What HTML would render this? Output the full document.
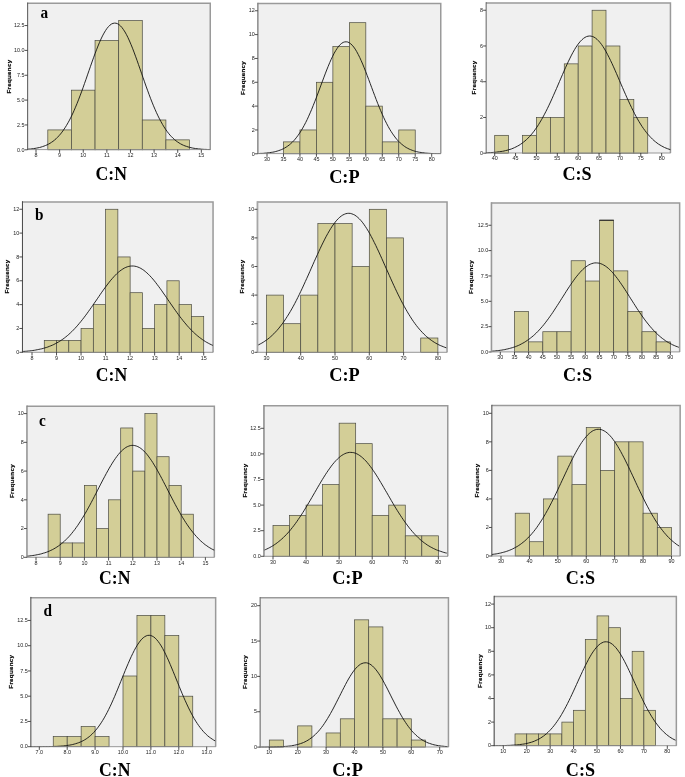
<!DOCTYPE html>
<html lang="en"><head><meta charset="utf-8"><title>Histograms</title>
<style>html,body{margin:0;padding:0;background:#fff}svg{display:block;will-change:transform;transform:translateZ(0)}</style>
</head><body>
<svg width="685" height="777" viewBox="0 0 685 777">
<rect width="685" height="777" fill="#fff"/>
<g>
<clipPath id="c0"><rect x="27.50" y="3.00" width="183.00" height="147.30"/></clipPath>
<rect x="27.50" y="3.00" width="183.00" height="146.60" fill="#f0f0f0"/>
<polyline points="27.50,3.25 210.25,3.25 210.25,149.60" fill="none" stroke="#9a9a9a" stroke-width="1.5"/>
<rect x="47.81" y="129.92" width="23.62" height="19.88" fill="#d3ce97" stroke="#4a4a40" stroke-width="0.7"/>
<rect x="71.43" y="90.16" width="23.62" height="59.64" fill="#d3ce97" stroke="#4a4a40" stroke-width="0.7"/>
<rect x="95.05" y="40.46" width="23.62" height="109.34" fill="#d3ce97" stroke="#4a4a40" stroke-width="0.7"/>
<rect x="118.67" y="20.58" width="23.62" height="129.22" fill="#d3ce97" stroke="#4a4a40" stroke-width="0.7"/>
<rect x="142.29" y="119.98" width="23.62" height="29.82" fill="#d3ce97" stroke="#4a4a40" stroke-width="0.7"/>
<rect x="165.91" y="139.86" width="23.62" height="9.94" fill="#d3ce97" stroke="#4a4a40" stroke-width="0.7"/>
<polyline clip-path="url(#c0)" points="27.5,149.2 29.0,149.1 30.5,149.0 32.0,148.8 33.5,148.6 35.0,148.4 36.5,148.1 38.0,147.8 39.5,147.5 41.0,147.1 42.5,146.6 44.0,146.1 45.5,145.5 47.0,144.9 48.5,144.1 50.0,143.3 51.5,142.3 53.0,141.3 54.5,140.1 56.0,138.8 57.5,137.3 59.0,135.7 60.5,134.0 62.0,132.1 63.5,130.0 65.0,127.8 66.5,125.4 68.0,122.8 69.5,120.1 71.0,117.1 72.5,114.0 74.0,110.7 75.5,107.2 77.0,103.6 78.5,99.8 80.0,95.9 81.5,91.9 83.0,87.8 84.5,83.5 86.0,79.3 87.5,74.9 89.0,70.6 90.5,66.3 92.0,62.0 93.5,57.8 95.0,53.7 96.5,49.8 98.0,46.0 99.5,42.4 101.0,39.0 102.5,35.9 104.0,33.1 105.5,30.6 107.0,28.4 108.5,26.6 110.0,25.1 111.5,24.0 113.0,23.4 114.5,23.1 116.0,23.2 117.5,23.7 119.0,24.6 120.5,25.9 122.0,27.6 123.5,29.7 125.0,32.0 126.5,34.7 128.0,37.7 129.5,41.0 131.0,44.5 132.5,48.2 134.0,52.1 135.5,56.2 137.0,60.3 138.5,64.6 140.0,68.9 141.5,73.2 143.0,77.5 144.5,81.8 146.0,86.1 147.5,90.2 149.0,94.3 150.5,98.3 152.0,102.1 153.5,105.8 155.0,109.3 156.5,112.7 158.0,115.9 159.5,118.9 161.0,121.7 162.5,124.4 164.0,126.9 165.5,129.2 167.0,131.3 168.5,133.3 170.0,135.1 171.5,136.7 173.0,138.2 174.5,139.6 176.0,140.8 177.5,141.9 179.0,142.9 180.5,143.8 182.0,144.6 183.5,145.3 185.0,145.9 186.5,146.4 188.0,146.9 189.5,147.3 191.0,147.7 192.5,148.0 194.0,148.3 195.5,148.5 197.0,148.7 198.5,148.9 200.0,149.0 201.5,149.2 203.0,149.3 204.5,149.4 206.0,149.4 207.5,149.5 209.0,149.6 210.5,149.6" fill="none" stroke="#111" stroke-width="0.9"/>
<line x1="27.50" y1="149.60" x2="210.50" y2="149.60" stroke="#8c8c8c" stroke-width="0.9"/>
<line x1="27.65" y1="2.50" x2="27.65" y2="150.00" stroke="#555" stroke-width="1"/>
<g font-family="'Liberation Sans',Arial,sans-serif" font-size="5.4" fill="#222">
<line x1="36.00" y1="149.60" x2="36.00" y2="152.80" stroke="#222" stroke-width="0.8"/>
<text x="36.00" y="156.90" text-anchor="middle">8</text>
<line x1="59.62" y1="149.60" x2="59.62" y2="152.80" stroke="#222" stroke-width="0.8"/>
<text x="59.62" y="156.90" text-anchor="middle">9</text>
<line x1="83.24" y1="149.60" x2="83.24" y2="152.80" stroke="#222" stroke-width="0.8"/>
<text x="83.24" y="156.90" text-anchor="middle">10</text>
<line x1="106.86" y1="149.60" x2="106.86" y2="152.80" stroke="#222" stroke-width="0.8"/>
<text x="106.86" y="156.90" text-anchor="middle">11</text>
<line x1="130.48" y1="149.60" x2="130.48" y2="152.80" stroke="#222" stroke-width="0.8"/>
<text x="130.48" y="156.90" text-anchor="middle">12</text>
<line x1="154.10" y1="149.60" x2="154.10" y2="152.80" stroke="#222" stroke-width="0.8"/>
<text x="154.10" y="156.90" text-anchor="middle">13</text>
<line x1="177.72" y1="149.60" x2="177.72" y2="152.80" stroke="#222" stroke-width="0.8"/>
<text x="177.72" y="156.90" text-anchor="middle">14</text>
<line x1="201.34" y1="149.60" x2="201.34" y2="152.80" stroke="#222" stroke-width="0.8"/>
<text x="201.34" y="156.90" text-anchor="middle">15</text>
<line x1="24.60" y1="149.80" x2="27.50" y2="149.80" stroke="#222" stroke-width="0.8"/>
<text x="24.50" y="151.50" text-anchor="end">0.0</text>
<line x1="24.60" y1="124.95" x2="27.50" y2="124.95" stroke="#222" stroke-width="0.8"/>
<text x="24.50" y="126.65" text-anchor="end">2.5</text>
<line x1="24.60" y1="100.10" x2="27.50" y2="100.10" stroke="#222" stroke-width="0.8"/>
<text x="24.50" y="101.80" text-anchor="end">5.0</text>
<line x1="24.60" y1="75.25" x2="27.50" y2="75.25" stroke="#222" stroke-width="0.8"/>
<text x="24.50" y="76.95" text-anchor="end">7.5</text>
<line x1="24.60" y1="50.40" x2="27.50" y2="50.40" stroke="#222" stroke-width="0.8"/>
<text x="24.50" y="52.10" text-anchor="end">10.0</text>
<line x1="24.60" y1="25.55" x2="27.50" y2="25.55" stroke="#222" stroke-width="0.8"/>
<text x="24.50" y="27.25" text-anchor="end">12.5</text>
</g>
<text transform="translate(10.50,76.60) rotate(-90)" text-anchor="middle" font-family="'Liberation Sans',Arial,sans-serif" font-weight="bold" font-size="6.2" letter-spacing="0.3" fill="#000" stroke="#000" stroke-width="0.18">Frequency</text>
<text transform="translate(111.30,180.00) scale(0.95,1)" text-anchor="middle" font-family="'Liberation Serif','Times New Roman',serif" font-weight="bold" font-size="18.6" fill="#000">C:N</text>
<text transform="translate(40.50,18.00) scale(0.9,1)" font-family="'Liberation Serif','Times New Roman',serif" font-weight="bold" font-size="17" fill="#000">a</text>
</g>
<g>
<clipPath id="c1"><rect x="257.70" y="3.30" width="183.30" height="151.00"/></clipPath>
<rect x="257.70" y="3.30" width="183.30" height="150.30" fill="#f0f0f0"/>
<polyline points="257.70,3.55 440.75,3.55 440.75,153.60" fill="none" stroke="#9a9a9a" stroke-width="1.5"/>
<rect x="283.47" y="141.88" width="16.47" height="11.92" fill="#d3ce97" stroke="#4a4a40" stroke-width="0.7"/>
<rect x="299.94" y="129.96" width="16.47" height="23.84" fill="#d3ce97" stroke="#4a4a40" stroke-width="0.7"/>
<rect x="316.41" y="82.28" width="16.47" height="71.52" fill="#d3ce97" stroke="#4a4a40" stroke-width="0.7"/>
<rect x="332.88" y="46.52" width="16.47" height="107.28" fill="#d3ce97" stroke="#4a4a40" stroke-width="0.7"/>
<rect x="349.35" y="22.68" width="16.47" height="131.12" fill="#d3ce97" stroke="#4a4a40" stroke-width="0.7"/>
<rect x="365.82" y="106.12" width="16.47" height="47.68" fill="#d3ce97" stroke="#4a4a40" stroke-width="0.7"/>
<rect x="382.29" y="141.88" width="16.47" height="11.92" fill="#d3ce97" stroke="#4a4a40" stroke-width="0.7"/>
<rect x="398.76" y="129.96" width="16.47" height="23.84" fill="#d3ce97" stroke="#4a4a40" stroke-width="0.7"/>
<polyline clip-path="url(#c1)" points="257.7,153.6 259.2,153.5 260.7,153.4 262.2,153.4 263.7,153.3 265.2,153.1 266.7,153.0 268.2,152.8 269.7,152.7 271.2,152.4 272.7,152.2 274.2,151.9 275.7,151.5 277.2,151.1 278.7,150.6 280.2,150.1 281.7,149.5 283.2,148.8 284.7,148.0 286.2,147.1 287.7,146.1 289.2,145.0 290.7,143.7 292.2,142.3 293.7,140.8 295.2,139.1 296.7,137.2 298.2,135.2 299.7,133.0 301.2,130.7 302.7,128.1 304.2,125.4 305.7,122.5 307.2,119.5 308.7,116.2 310.2,112.8 311.7,109.3 313.2,105.6 314.7,101.8 316.2,98.0 317.7,94.0 319.2,90.0 320.7,85.9 322.2,81.9 323.7,77.9 325.2,73.9 326.7,70.0 328.2,66.3 329.7,62.7 331.2,59.3 332.7,56.2 334.2,53.2 335.7,50.6 337.2,48.3 338.7,46.2 340.2,44.6 341.7,43.3 343.2,42.4 344.7,41.9 346.2,41.8 347.7,42.0 349.2,42.7 350.7,43.8 352.2,45.2 353.7,47.0 355.2,49.1 356.7,51.6 358.2,54.4 359.7,57.4 361.2,60.7 362.7,64.1 364.2,67.8 365.7,71.6 367.2,75.5 368.7,79.5 370.2,83.5 371.7,87.6 373.2,91.6 374.7,95.6 376.2,99.5 377.7,103.4 379.2,107.1 380.7,110.7 382.2,114.2 383.7,117.5 385.2,120.7 386.7,123.7 388.2,126.5 389.7,129.2 391.2,131.6 392.7,133.9 394.2,136.0 395.7,138.0 397.2,139.8 398.7,141.4 400.2,142.9 401.7,144.2 403.2,145.4 404.7,146.5 406.2,147.5 407.7,148.3 409.2,149.1 410.7,149.7 412.2,150.3 413.7,150.8 415.2,151.3 416.7,151.7 418.2,152.0 419.7,152.3 421.2,152.5 422.7,152.7 424.2,152.9 425.7,153.1 427.2,153.2 428.7,153.3 430.2,153.4 431.7,153.5 433.2,153.5 434.7,153.6 436.2,153.6 437.7,153.7 439.2,153.7 440.7,153.7" fill="none" stroke="#111" stroke-width="0.9"/>
<line x1="257.70" y1="153.60" x2="441.00" y2="153.60" stroke="#8c8c8c" stroke-width="0.9"/>
<line x1="257.85" y1="2.80" x2="257.85" y2="154.00" stroke="#8a8a8a" stroke-width="1.5"/>
<g font-family="'Liberation Sans',Arial,sans-serif" font-size="5.4" fill="#222">
<line x1="267.00" y1="153.60" x2="267.00" y2="156.80" stroke="#222" stroke-width="0.8"/>
<text x="267.00" y="160.90" text-anchor="middle">30</text>
<line x1="283.47" y1="153.60" x2="283.47" y2="156.80" stroke="#222" stroke-width="0.8"/>
<text x="283.47" y="160.90" text-anchor="middle">35</text>
<line x1="299.94" y1="153.60" x2="299.94" y2="156.80" stroke="#222" stroke-width="0.8"/>
<text x="299.94" y="160.90" text-anchor="middle">40</text>
<line x1="316.41" y1="153.60" x2="316.41" y2="156.80" stroke="#222" stroke-width="0.8"/>
<text x="316.41" y="160.90" text-anchor="middle">45</text>
<line x1="332.88" y1="153.60" x2="332.88" y2="156.80" stroke="#222" stroke-width="0.8"/>
<text x="332.88" y="160.90" text-anchor="middle">50</text>
<line x1="349.35" y1="153.60" x2="349.35" y2="156.80" stroke="#222" stroke-width="0.8"/>
<text x="349.35" y="160.90" text-anchor="middle">55</text>
<line x1="365.82" y1="153.60" x2="365.82" y2="156.80" stroke="#222" stroke-width="0.8"/>
<text x="365.82" y="160.90" text-anchor="middle">60</text>
<line x1="382.29" y1="153.60" x2="382.29" y2="156.80" stroke="#222" stroke-width="0.8"/>
<text x="382.29" y="160.90" text-anchor="middle">65</text>
<line x1="398.76" y1="153.60" x2="398.76" y2="156.80" stroke="#222" stroke-width="0.8"/>
<text x="398.76" y="160.90" text-anchor="middle">70</text>
<line x1="415.23" y1="153.60" x2="415.23" y2="156.80" stroke="#222" stroke-width="0.8"/>
<text x="415.23" y="160.90" text-anchor="middle">75</text>
<line x1="431.70" y1="153.60" x2="431.70" y2="156.80" stroke="#222" stroke-width="0.8"/>
<text x="431.70" y="160.90" text-anchor="middle">80</text>
<line x1="254.80" y1="153.80" x2="257.70" y2="153.80" stroke="#222" stroke-width="0.8"/>
<text x="254.70" y="155.50" text-anchor="end">0</text>
<line x1="254.80" y1="129.96" x2="257.70" y2="129.96" stroke="#222" stroke-width="0.8"/>
<text x="254.70" y="131.66" text-anchor="end">2</text>
<line x1="254.80" y1="106.12" x2="257.70" y2="106.12" stroke="#222" stroke-width="0.8"/>
<text x="254.70" y="107.82" text-anchor="end">4</text>
<line x1="254.80" y1="82.28" x2="257.70" y2="82.28" stroke="#222" stroke-width="0.8"/>
<text x="254.70" y="83.98" text-anchor="end">6</text>
<line x1="254.80" y1="58.44" x2="257.70" y2="58.44" stroke="#222" stroke-width="0.8"/>
<text x="254.70" y="60.14" text-anchor="end">8</text>
<line x1="254.80" y1="34.60" x2="257.70" y2="34.60" stroke="#222" stroke-width="0.8"/>
<text x="254.70" y="36.30" text-anchor="end">10</text>
<line x1="254.80" y1="10.76" x2="257.70" y2="10.76" stroke="#222" stroke-width="0.8"/>
<text x="254.70" y="12.46" text-anchor="end">12</text>
</g>
<text transform="translate(245.20,77.90) rotate(-90)" text-anchor="middle" font-family="'Liberation Sans',Arial,sans-serif" font-weight="bold" font-size="6.2" letter-spacing="0.3" fill="#000" stroke="#000" stroke-width="0.18">Frequency</text>
<text transform="translate(344.40,183.00) scale(0.985,1)" text-anchor="middle" font-family="'Liberation Serif','Times New Roman',serif" font-weight="bold" font-size="18.6" fill="#000">C:P</text>
</g>
<g>
<clipPath id="c2"><rect x="486.00" y="2.70" width="184.70" height="151.00"/></clipPath>
<rect x="486.00" y="2.70" width="184.70" height="150.30" fill="#f0f0f0"/>
<polyline points="486.00,2.95 670.45,2.95 670.45,153.00" fill="none" stroke="#9a9a9a" stroke-width="1.5"/>
<rect x="494.70" y="135.33" width="13.91" height="17.87" fill="#d3ce97" stroke="#4a4a40" stroke-width="0.7"/>
<rect x="522.53" y="135.33" width="13.91" height="17.87" fill="#d3ce97" stroke="#4a4a40" stroke-width="0.7"/>
<rect x="536.44" y="117.46" width="13.91" height="35.74" fill="#d3ce97" stroke="#4a4a40" stroke-width="0.7"/>
<rect x="550.35" y="117.46" width="13.91" height="35.74" fill="#d3ce97" stroke="#4a4a40" stroke-width="0.7"/>
<rect x="564.27" y="63.85" width="13.91" height="89.35" fill="#d3ce97" stroke="#4a4a40" stroke-width="0.7"/>
<rect x="578.18" y="45.98" width="13.91" height="107.22" fill="#d3ce97" stroke="#4a4a40" stroke-width="0.7"/>
<rect x="592.09" y="10.24" width="13.91" height="142.96" fill="#d3ce97" stroke="#4a4a40" stroke-width="0.7"/>
<rect x="606.01" y="45.98" width="13.91" height="107.22" fill="#d3ce97" stroke="#4a4a40" stroke-width="0.7"/>
<rect x="619.92" y="99.59" width="13.91" height="53.61" fill="#d3ce97" stroke="#4a4a40" stroke-width="0.7"/>
<rect x="633.83" y="117.46" width="13.91" height="35.74" fill="#d3ce97" stroke="#4a4a40" stroke-width="0.7"/>
<polyline clip-path="url(#c2)" points="486.0,152.8 487.5,152.8 489.0,152.7 490.5,152.6 492.0,152.5 493.5,152.4 495.0,152.3 496.5,152.1 498.0,151.9 499.5,151.7 501.0,151.5 502.5,151.3 504.0,151.0 505.5,150.6 507.0,150.3 508.5,149.8 510.0,149.4 511.5,148.9 513.0,148.3 514.5,147.6 516.0,146.9 517.5,146.1 519.0,145.3 520.5,144.3 522.0,143.3 523.5,142.1 525.0,140.9 526.5,139.6 528.0,138.1 529.5,136.6 531.0,134.9 532.5,133.1 534.0,131.2 535.5,129.1 537.0,127.0 538.5,124.7 540.0,122.2 541.5,119.7 543.0,117.0 544.5,114.2 546.0,111.3 547.5,108.3 549.0,105.2 550.5,102.0 552.0,98.7 553.5,95.3 555.0,91.9 556.5,88.5 558.0,85.0 559.5,81.5 561.0,78.0 562.5,74.5 564.0,71.1 565.5,67.7 567.0,64.4 568.5,61.2 570.0,58.1 571.5,55.1 573.0,52.3 574.5,49.7 576.0,47.2 577.5,45.0 579.0,43.0 580.5,41.2 582.0,39.7 583.5,38.4 585.0,37.4 586.5,36.6 588.0,36.2 589.5,36.0 591.0,36.1 592.5,36.5 594.0,37.1 595.5,38.1 597.0,39.3 598.5,40.8 600.0,42.5 601.5,44.4 603.0,46.6 604.5,49.0 606.0,51.6 607.5,54.4 609.0,57.3 610.5,60.4 612.0,63.5 613.5,66.8 615.0,70.2 616.5,73.6 618.0,77.1 619.5,80.6 621.0,84.1 622.5,87.5 624.0,91.0 625.5,94.4 627.0,97.8 628.5,101.1 630.0,104.3 631.5,107.5 633.0,110.5 634.5,113.5 636.0,116.3 637.5,119.0 639.0,121.6 640.5,124.0 642.0,126.4 643.5,128.6 645.0,130.6 646.5,132.6 648.0,134.4 649.5,136.1 651.0,137.7 652.5,139.2 654.0,140.6 655.5,141.8 657.0,143.0 658.5,144.1 660.0,145.0 661.5,145.9 663.0,146.7 664.5,147.5 666.0,148.1 667.5,148.7 669.0,149.2 670.5,149.7" fill="none" stroke="#111" stroke-width="0.9"/>
<line x1="486.00" y1="153.00" x2="670.70" y2="153.00" stroke="#8c8c8c" stroke-width="0.9"/>
<line x1="486.15" y1="2.20" x2="486.15" y2="153.40" stroke="#636363" stroke-width="1"/>
<g font-family="'Liberation Sans',Arial,sans-serif" font-size="5.4" fill="#222">
<line x1="494.70" y1="153.00" x2="494.70" y2="156.20" stroke="#222" stroke-width="0.8"/>
<text x="494.70" y="160.30" text-anchor="middle">40</text>
<line x1="515.57" y1="153.00" x2="515.57" y2="156.20" stroke="#222" stroke-width="0.8"/>
<text x="515.57" y="160.30" text-anchor="middle">45</text>
<line x1="536.44" y1="153.00" x2="536.44" y2="156.20" stroke="#222" stroke-width="0.8"/>
<text x="536.44" y="160.30" text-anchor="middle">50</text>
<line x1="557.31" y1="153.00" x2="557.31" y2="156.20" stroke="#222" stroke-width="0.8"/>
<text x="557.31" y="160.30" text-anchor="middle">55</text>
<line x1="578.18" y1="153.00" x2="578.18" y2="156.20" stroke="#222" stroke-width="0.8"/>
<text x="578.18" y="160.30" text-anchor="middle">60</text>
<line x1="599.05" y1="153.00" x2="599.05" y2="156.20" stroke="#222" stroke-width="0.8"/>
<text x="599.05" y="160.30" text-anchor="middle">65</text>
<line x1="619.92" y1="153.00" x2="619.92" y2="156.20" stroke="#222" stroke-width="0.8"/>
<text x="619.92" y="160.30" text-anchor="middle">70</text>
<line x1="640.79" y1="153.00" x2="640.79" y2="156.20" stroke="#222" stroke-width="0.8"/>
<text x="640.79" y="160.30" text-anchor="middle">75</text>
<line x1="661.66" y1="153.00" x2="661.66" y2="156.20" stroke="#222" stroke-width="0.8"/>
<text x="661.66" y="160.30" text-anchor="middle">80</text>
<line x1="483.10" y1="153.20" x2="486.00" y2="153.20" stroke="#222" stroke-width="0.8"/>
<text x="483.00" y="154.90" text-anchor="end">0</text>
<line x1="483.10" y1="117.46" x2="486.00" y2="117.46" stroke="#222" stroke-width="0.8"/>
<text x="483.00" y="119.16" text-anchor="end">2</text>
<line x1="483.10" y1="81.72" x2="486.00" y2="81.72" stroke="#222" stroke-width="0.8"/>
<text x="483.00" y="83.42" text-anchor="end">4</text>
<line x1="483.10" y1="45.98" x2="486.00" y2="45.98" stroke="#222" stroke-width="0.8"/>
<text x="483.00" y="47.68" text-anchor="end">6</text>
<line x1="483.10" y1="10.24" x2="486.00" y2="10.24" stroke="#222" stroke-width="0.8"/>
<text x="483.00" y="11.94" text-anchor="end">8</text>
</g>
<text transform="translate(475.85,77.40) rotate(-90)" text-anchor="middle" font-family="'Liberation Sans',Arial,sans-serif" font-weight="bold" font-size="6.2" letter-spacing="0.3" fill="#000" stroke="#000" stroke-width="0.18">Frequency</text>
<text transform="translate(577.10,180.00) scale(0.975,1)" text-anchor="middle" font-family="'Liberation Serif','Times New Roman',serif" font-weight="bold" font-size="18.6" fill="#000">C:S</text>
</g>
<g>
<clipPath id="c3"><rect x="22.30" y="201.70" width="191.00" height="151.30"/></clipPath>
<rect x="22.30" y="201.70" width="191.00" height="150.60" fill="#f0f0f0"/>
<polyline points="22.30,201.95 213.05,201.95 213.05,352.30" fill="none" stroke="#9a9a9a" stroke-width="1.5"/>
<rect x="44.27" y="340.38" width="12.27" height="11.92" fill="#d3ce97" stroke="#4a4a40" stroke-width="0.7"/>
<rect x="56.53" y="340.38" width="12.27" height="11.92" fill="#d3ce97" stroke="#4a4a40" stroke-width="0.7"/>
<rect x="68.80" y="340.38" width="12.27" height="11.92" fill="#d3ce97" stroke="#4a4a40" stroke-width="0.7"/>
<rect x="81.06" y="328.46" width="12.27" height="23.84" fill="#d3ce97" stroke="#4a4a40" stroke-width="0.7"/>
<rect x="93.33" y="304.62" width="12.27" height="47.68" fill="#d3ce97" stroke="#4a4a40" stroke-width="0.7"/>
<rect x="105.59" y="209.26" width="12.27" height="143.04" fill="#d3ce97" stroke="#4a4a40" stroke-width="0.7"/>
<rect x="117.86" y="256.94" width="12.27" height="95.36" fill="#d3ce97" stroke="#4a4a40" stroke-width="0.7"/>
<rect x="130.12" y="292.70" width="12.26" height="59.60" fill="#d3ce97" stroke="#4a4a40" stroke-width="0.7"/>
<rect x="142.38" y="328.46" width="12.27" height="23.84" fill="#d3ce97" stroke="#4a4a40" stroke-width="0.7"/>
<rect x="154.65" y="304.62" width="12.27" height="47.68" fill="#d3ce97" stroke="#4a4a40" stroke-width="0.7"/>
<rect x="166.92" y="280.78" width="12.26" height="71.52" fill="#d3ce97" stroke="#4a4a40" stroke-width="0.7"/>
<rect x="179.18" y="304.62" width="12.26" height="47.68" fill="#d3ce97" stroke="#4a4a40" stroke-width="0.7"/>
<rect x="191.44" y="316.54" width="12.27" height="35.76" fill="#d3ce97" stroke="#4a4a40" stroke-width="0.7"/>
<polyline clip-path="url(#c3)" points="22.3,351.5 23.8,351.4 25.3,351.3 26.8,351.2 28.3,351.0 29.8,350.9 31.3,350.7 32.8,350.5 34.3,350.3 35.8,350.0 37.3,349.7 38.8,349.4 40.3,349.1 41.8,348.8 43.3,348.4 44.8,347.9 46.3,347.5 47.8,347.0 49.3,346.4 50.8,345.8 52.3,345.2 53.8,344.5 55.3,343.7 56.8,342.9 58.3,342.1 59.8,341.2 61.3,340.2 62.8,339.2 64.3,338.1 65.8,336.9 67.3,335.7 68.8,334.4 70.3,333.0 71.8,331.6 73.3,330.1 74.8,328.5 76.3,326.9 77.8,325.2 79.3,323.4 80.8,321.6 82.3,319.7 83.8,317.8 85.3,315.8 86.8,313.8 88.3,311.7 89.8,309.6 91.3,307.5 92.8,305.3 94.3,303.1 95.8,301.0 97.3,298.8 98.8,296.6 100.3,294.4 101.8,292.2 103.3,290.1 104.8,288.0 106.3,286.0 107.8,284.0 109.3,282.1 110.8,280.2 112.3,278.5 113.8,276.8 115.3,275.2 116.8,273.7 118.3,272.3 119.8,271.1 121.3,270.0 122.8,269.0 124.3,268.1 125.8,267.4 127.3,266.8 128.8,266.4 130.3,266.1 131.8,266.0 133.3,266.0 134.8,266.2 136.3,266.5 137.8,267.0 139.3,267.6 140.8,268.4 142.3,269.3 143.8,270.3 145.3,271.5 146.8,272.8 148.3,274.2 149.8,275.7 151.3,277.3 152.8,279.0 154.3,280.8 155.8,282.7 157.3,284.7 158.8,286.7 160.3,288.7 161.8,290.8 163.3,293.0 164.8,295.1 166.3,297.3 167.8,299.5 169.3,301.7 170.8,303.9 172.3,306.0 173.8,308.2 175.3,310.3 176.8,312.4 178.3,314.5 179.8,316.5 181.3,318.4 182.8,320.4 184.3,322.2 185.8,324.0 187.3,325.8 188.8,327.4 190.3,329.0 191.8,330.6 193.3,332.1 194.8,333.5 196.3,334.8 197.8,336.1 199.3,337.3 200.8,338.4 202.3,339.5 203.8,340.5 205.3,341.5 206.8,342.4 208.3,343.2 209.8,344.0 211.3,344.7 212.8,345.4" fill="none" stroke="#111" stroke-width="0.9"/>
<line x1="22.30" y1="352.30" x2="213.30" y2="352.30" stroke="#8c8c8c" stroke-width="0.9"/>
<line x1="22.45" y1="201.20" x2="22.45" y2="352.70" stroke="#444" stroke-width="1"/>
<g font-family="'Liberation Sans',Arial,sans-serif" font-size="5.4" fill="#222">
<line x1="32.00" y1="352.30" x2="32.00" y2="355.50" stroke="#222" stroke-width="0.8"/>
<text x="32.00" y="359.60" text-anchor="middle">8</text>
<line x1="56.53" y1="352.30" x2="56.53" y2="355.50" stroke="#222" stroke-width="0.8"/>
<text x="56.53" y="359.60" text-anchor="middle">9</text>
<line x1="81.06" y1="352.30" x2="81.06" y2="355.50" stroke="#222" stroke-width="0.8"/>
<text x="81.06" y="359.60" text-anchor="middle">10</text>
<line x1="105.59" y1="352.30" x2="105.59" y2="355.50" stroke="#222" stroke-width="0.8"/>
<text x="105.59" y="359.60" text-anchor="middle">11</text>
<line x1="130.12" y1="352.30" x2="130.12" y2="355.50" stroke="#222" stroke-width="0.8"/>
<text x="130.12" y="359.60" text-anchor="middle">12</text>
<line x1="154.65" y1="352.30" x2="154.65" y2="355.50" stroke="#222" stroke-width="0.8"/>
<text x="154.65" y="359.60" text-anchor="middle">13</text>
<line x1="179.18" y1="352.30" x2="179.18" y2="355.50" stroke="#222" stroke-width="0.8"/>
<text x="179.18" y="359.60" text-anchor="middle">14</text>
<line x1="203.71" y1="352.30" x2="203.71" y2="355.50" stroke="#222" stroke-width="0.8"/>
<text x="203.71" y="359.60" text-anchor="middle">15</text>
<line x1="19.40" y1="352.30" x2="22.30" y2="352.30" stroke="#222" stroke-width="0.8"/>
<text x="19.30" y="354.00" text-anchor="end">0</text>
<line x1="19.40" y1="328.46" x2="22.30" y2="328.46" stroke="#222" stroke-width="0.8"/>
<text x="19.30" y="330.16" text-anchor="end">2</text>
<line x1="19.40" y1="304.62" x2="22.30" y2="304.62" stroke="#222" stroke-width="0.8"/>
<text x="19.30" y="306.32" text-anchor="end">4</text>
<line x1="19.40" y1="280.78" x2="22.30" y2="280.78" stroke="#222" stroke-width="0.8"/>
<text x="19.30" y="282.48" text-anchor="end">6</text>
<line x1="19.40" y1="256.94" x2="22.30" y2="256.94" stroke="#222" stroke-width="0.8"/>
<text x="19.30" y="258.64" text-anchor="end">8</text>
<line x1="19.40" y1="233.10" x2="22.30" y2="233.10" stroke="#222" stroke-width="0.8"/>
<text x="19.30" y="234.80" text-anchor="end">10</text>
<line x1="19.40" y1="209.26" x2="22.30" y2="209.26" stroke="#222" stroke-width="0.8"/>
<text x="19.30" y="210.96" text-anchor="end">12</text>
</g>
<text transform="translate(9.20,276.50) rotate(-90)" text-anchor="middle" font-family="'Liberation Sans',Arial,sans-serif" font-weight="bold" font-size="6.2" letter-spacing="0.3" fill="#000" stroke="#000" stroke-width="0.18">Frequency</text>
<text transform="translate(111.50,381.30) scale(0.95,1)" text-anchor="middle" font-family="'Liberation Serif','Times New Roman',serif" font-weight="bold" font-size="18.6" fill="#000">C:N</text>
<text transform="translate(35.00,220.00) scale(0.9,1)" font-family="'Liberation Serif','Times New Roman',serif" font-weight="bold" font-size="17" fill="#000">b</text>
</g>
<g>
<clipPath id="c4"><rect x="257.30" y="201.70" width="190.00" height="151.30"/></clipPath>
<rect x="257.30" y="201.70" width="190.00" height="150.60" fill="#f0f0f0"/>
<polyline points="257.30,201.95 447.05,201.95 447.05,352.30" fill="none" stroke="#9a9a9a" stroke-width="1.5"/>
<rect x="266.40" y="295.10" width="17.15" height="57.20" fill="#d3ce97" stroke="#4a4a40" stroke-width="0.7"/>
<rect x="283.55" y="323.70" width="17.15" height="28.60" fill="#d3ce97" stroke="#4a4a40" stroke-width="0.7"/>
<rect x="300.70" y="295.10" width="17.15" height="57.20" fill="#d3ce97" stroke="#4a4a40" stroke-width="0.7"/>
<rect x="317.85" y="223.60" width="17.15" height="128.70" fill="#d3ce97" stroke="#4a4a40" stroke-width="0.7"/>
<rect x="335.00" y="223.60" width="17.15" height="128.70" fill="#d3ce97" stroke="#4a4a40" stroke-width="0.7"/>
<rect x="352.15" y="266.50" width="17.15" height="85.80" fill="#d3ce97" stroke="#4a4a40" stroke-width="0.7"/>
<rect x="369.30" y="209.30" width="17.15" height="143.00" fill="#d3ce97" stroke="#4a4a40" stroke-width="0.7"/>
<rect x="386.45" y="237.90" width="17.15" height="114.40" fill="#d3ce97" stroke="#4a4a40" stroke-width="0.7"/>
<rect x="420.75" y="338.00" width="17.15" height="14.30" fill="#d3ce97" stroke="#4a4a40" stroke-width="0.7"/>
<polyline clip-path="url(#c4)" points="257.3,345.4 258.8,344.7 260.3,343.9 261.8,343.1 263.3,342.2 264.8,341.2 266.3,340.2 267.8,339.1 269.3,337.9 270.8,336.6 272.3,335.2 273.8,333.8 275.3,332.2 276.8,330.6 278.3,328.9 279.8,327.0 281.3,325.1 282.8,323.1 284.3,321.0 285.8,318.7 287.3,316.4 288.8,314.0 290.3,311.5 291.8,308.9 293.3,306.2 294.8,303.4 296.3,300.5 297.8,297.5 299.3,294.5 300.8,291.3 302.3,288.2 303.8,284.9 305.3,281.6 306.8,278.3 308.3,275.0 309.8,271.6 311.3,268.2 312.8,264.8 314.3,261.4 315.8,258.1 317.3,254.8 318.8,251.5 320.3,248.3 321.8,245.1 323.3,242.1 324.8,239.1 326.3,236.2 327.8,233.5 329.3,230.9 330.8,228.4 332.3,226.1 333.8,224.0 335.3,222.0 336.8,220.2 338.3,218.6 339.8,217.2 341.3,216.0 342.8,215.0 344.3,214.3 345.8,213.7 347.3,213.4 348.8,213.3 350.3,213.4 351.8,213.8 353.3,214.4 354.8,215.1 356.3,216.2 357.8,217.4 359.3,218.8 360.8,220.4 362.3,222.2 363.8,224.2 365.3,226.4 366.8,228.7 368.3,231.2 369.8,233.8 371.3,236.6 372.8,239.5 374.3,242.5 375.8,245.5 377.3,248.7 378.8,251.9 380.3,255.2 381.8,258.5 383.3,261.9 384.8,265.3 386.3,268.7 387.8,272.0 389.3,275.4 390.8,278.8 392.3,282.1 393.8,285.4 395.3,288.6 396.8,291.8 398.3,294.9 399.8,297.9 401.3,300.9 402.8,303.7 404.3,306.5 405.8,309.2 407.3,311.8 408.8,314.3 410.3,316.7 411.8,319.1 413.3,321.3 414.8,323.4 416.3,325.4 417.8,327.3 419.3,329.1 420.8,330.8 422.3,332.4 423.8,334.0 425.3,335.4 426.8,336.8 428.3,338.0 429.8,339.2 431.3,340.3 432.8,341.3 434.3,342.3 435.8,343.2 437.3,344.0 438.8,344.8 440.3,345.5 441.8,346.1 443.3,346.7 444.8,347.3 446.3,347.8" fill="none" stroke="#111" stroke-width="0.9"/>
<line x1="257.30" y1="352.30" x2="447.30" y2="352.30" stroke="#8c8c8c" stroke-width="0.9"/>
<line x1="257.45" y1="201.20" x2="257.45" y2="352.70" stroke="#a6a6a6" stroke-width="1.8"/>
<g font-family="'Liberation Sans',Arial,sans-serif" font-size="5.4" fill="#222">
<line x1="266.40" y1="352.30" x2="266.40" y2="355.50" stroke="#222" stroke-width="0.8"/>
<text x="266.40" y="359.60" text-anchor="middle">30</text>
<line x1="300.70" y1="352.30" x2="300.70" y2="355.50" stroke="#222" stroke-width="0.8"/>
<text x="300.70" y="359.60" text-anchor="middle">40</text>
<line x1="335.00" y1="352.30" x2="335.00" y2="355.50" stroke="#222" stroke-width="0.8"/>
<text x="335.00" y="359.60" text-anchor="middle">50</text>
<line x1="369.30" y1="352.30" x2="369.30" y2="355.50" stroke="#222" stroke-width="0.8"/>
<text x="369.30" y="359.60" text-anchor="middle">60</text>
<line x1="403.60" y1="352.30" x2="403.60" y2="355.50" stroke="#222" stroke-width="0.8"/>
<text x="403.60" y="359.60" text-anchor="middle">70</text>
<line x1="437.90" y1="352.30" x2="437.90" y2="355.50" stroke="#222" stroke-width="0.8"/>
<text x="437.90" y="359.60" text-anchor="middle">80</text>
<line x1="254.40" y1="352.30" x2="257.30" y2="352.30" stroke="#222" stroke-width="0.8"/>
<text x="254.30" y="354.00" text-anchor="end">0</text>
<line x1="254.40" y1="323.70" x2="257.30" y2="323.70" stroke="#222" stroke-width="0.8"/>
<text x="254.30" y="325.40" text-anchor="end">2</text>
<line x1="254.40" y1="295.10" x2="257.30" y2="295.10" stroke="#222" stroke-width="0.8"/>
<text x="254.30" y="296.80" text-anchor="end">4</text>
<line x1="254.40" y1="266.50" x2="257.30" y2="266.50" stroke="#222" stroke-width="0.8"/>
<text x="254.30" y="268.20" text-anchor="end">6</text>
<line x1="254.40" y1="237.90" x2="257.30" y2="237.90" stroke="#222" stroke-width="0.8"/>
<text x="254.30" y="239.60" text-anchor="end">8</text>
<line x1="254.40" y1="209.30" x2="257.30" y2="209.30" stroke="#222" stroke-width="0.8"/>
<text x="254.30" y="211.00" text-anchor="end">10</text>
</g>
<text transform="translate(243.90,276.50) rotate(-90)" text-anchor="middle" font-family="'Liberation Sans',Arial,sans-serif" font-weight="bold" font-size="6.2" letter-spacing="0.3" fill="#000" stroke="#000" stroke-width="0.18">Frequency</text>
<text transform="translate(344.50,381.30) scale(0.985,1)" text-anchor="middle" font-family="'Liberation Serif','Times New Roman',serif" font-weight="bold" font-size="18.6" fill="#000">C:P</text>
</g>
<g>
<clipPath id="c5"><rect x="491.30" y="202.70" width="188.60" height="149.90"/></clipPath>
<rect x="491.30" y="202.70" width="188.60" height="149.20" fill="#f0f0f0"/>
<polyline points="491.30,202.95 679.65,202.95 679.65,351.90" fill="none" stroke="#9a9a9a" stroke-width="1.5"/>
<rect x="514.47" y="311.44" width="14.17" height="40.56" fill="#d3ce97" stroke="#4a4a40" stroke-width="0.7"/>
<rect x="528.64" y="341.86" width="14.17" height="10.14" fill="#d3ce97" stroke="#4a4a40" stroke-width="0.7"/>
<rect x="542.81" y="331.72" width="14.17" height="20.28" fill="#d3ce97" stroke="#4a4a40" stroke-width="0.7"/>
<rect x="556.98" y="331.72" width="14.17" height="20.28" fill="#d3ce97" stroke="#4a4a40" stroke-width="0.7"/>
<rect x="571.15" y="260.74" width="14.17" height="91.26" fill="#d3ce97" stroke="#4a4a40" stroke-width="0.7"/>
<rect x="585.32" y="281.02" width="14.17" height="70.98" fill="#d3ce97" stroke="#4a4a40" stroke-width="0.7"/>
<rect x="599.49" y="220.18" width="14.17" height="131.82" fill="#d3ce97" stroke="#4a4a40" stroke-width="0.7"/>
<rect x="613.66" y="270.88" width="14.17" height="81.12" fill="#d3ce97" stroke="#4a4a40" stroke-width="0.7"/>
<rect x="627.83" y="311.44" width="14.17" height="40.56" fill="#d3ce97" stroke="#4a4a40" stroke-width="0.7"/>
<rect x="642.00" y="331.72" width="14.17" height="20.28" fill="#d3ce97" stroke="#4a4a40" stroke-width="0.7"/>
<rect x="656.17" y="341.86" width="14.17" height="10.14" fill="#d3ce97" stroke="#4a4a40" stroke-width="0.7"/>
<line x1="599.49" y1="220.28" x2="613.66" y2="220.28" stroke="#222" stroke-width="1"/>
<polyline clip-path="url(#c5)" points="491.3,351.2 492.8,351.1 494.3,351.0 495.8,350.8 497.3,350.7 498.8,350.5 500.3,350.3 501.8,350.1 503.3,349.8 504.8,349.6 506.3,349.2 507.8,348.9 509.3,348.5 510.8,348.1 512.3,347.7 513.8,347.2 515.3,346.7 516.8,346.1 518.3,345.5 519.8,344.8 521.3,344.0 522.8,343.2 524.3,342.4 525.8,341.4 527.3,340.4 528.8,339.4 530.3,338.2 531.8,337.0 533.3,335.8 534.8,334.4 536.3,333.0 537.8,331.5 539.3,329.9 540.8,328.2 542.3,326.5 543.8,324.7 545.3,322.8 546.8,320.8 548.3,318.8 549.8,316.7 551.3,314.6 552.8,312.4 554.3,310.1 555.8,307.8 557.3,305.5 558.8,303.2 560.3,300.8 561.8,298.4 563.3,296.1 564.8,293.7 566.3,291.3 567.8,289.0 569.3,286.7 570.8,284.5 572.3,282.3 573.8,280.2 575.3,278.1 576.8,276.2 578.3,274.4 579.8,272.6 581.3,271.0 582.8,269.5 584.3,268.1 585.8,266.9 587.3,265.9 588.8,264.9 590.3,264.2 591.8,263.6 593.3,263.2 594.8,262.9 596.3,262.9 597.8,263.0 599.3,263.2 600.8,263.7 602.3,264.3 603.8,265.1 605.3,266.0 606.8,267.1 608.3,268.3 609.8,269.7 611.3,271.2 612.8,272.8 614.3,274.6 615.8,276.5 617.3,278.4 618.8,280.5 620.3,282.6 621.8,284.8 623.3,287.0 624.8,289.3 626.3,291.6 627.8,294.0 629.3,296.4 630.8,298.8 632.3,301.1 633.8,303.5 635.3,305.8 636.8,308.2 638.3,310.4 639.8,312.7 641.3,314.9 642.8,317.0 644.3,319.1 645.8,321.1 647.3,323.0 648.8,324.9 650.3,326.7 651.8,328.4 653.3,330.1 654.8,331.7 656.3,333.2 657.8,334.6 659.3,335.9 660.8,337.2 662.3,338.4 663.8,339.5 665.3,340.6 666.8,341.6 668.3,342.5 669.8,343.3 671.3,344.1 672.8,344.9 674.3,345.5 675.8,346.2 677.3,346.7 678.8,347.3" fill="none" stroke="#111" stroke-width="0.9"/>
<line x1="491.30" y1="351.90" x2="679.90" y2="351.90" stroke="#8c8c8c" stroke-width="0.9"/>
<line x1="491.45" y1="202.20" x2="491.45" y2="352.30" stroke="#999" stroke-width="1.6"/>
<g font-family="'Liberation Sans',Arial,sans-serif" font-size="5.4" fill="#222">
<line x1="500.30" y1="351.90" x2="500.30" y2="355.10" stroke="#222" stroke-width="0.8"/>
<text x="500.30" y="359.20" text-anchor="middle">30</text>
<line x1="514.47" y1="351.90" x2="514.47" y2="355.10" stroke="#222" stroke-width="0.8"/>
<text x="514.47" y="359.20" text-anchor="middle">35</text>
<line x1="528.64" y1="351.90" x2="528.64" y2="355.10" stroke="#222" stroke-width="0.8"/>
<text x="528.64" y="359.20" text-anchor="middle">40</text>
<line x1="542.81" y1="351.90" x2="542.81" y2="355.10" stroke="#222" stroke-width="0.8"/>
<text x="542.81" y="359.20" text-anchor="middle">45</text>
<line x1="556.98" y1="351.90" x2="556.98" y2="355.10" stroke="#222" stroke-width="0.8"/>
<text x="556.98" y="359.20" text-anchor="middle">50</text>
<line x1="571.15" y1="351.90" x2="571.15" y2="355.10" stroke="#222" stroke-width="0.8"/>
<text x="571.15" y="359.20" text-anchor="middle">55</text>
<line x1="585.32" y1="351.90" x2="585.32" y2="355.10" stroke="#222" stroke-width="0.8"/>
<text x="585.32" y="359.20" text-anchor="middle">60</text>
<line x1="599.49" y1="351.90" x2="599.49" y2="355.10" stroke="#222" stroke-width="0.8"/>
<text x="599.49" y="359.20" text-anchor="middle">65</text>
<line x1="613.66" y1="351.90" x2="613.66" y2="355.10" stroke="#222" stroke-width="0.8"/>
<text x="613.66" y="359.20" text-anchor="middle">70</text>
<line x1="627.83" y1="351.90" x2="627.83" y2="355.10" stroke="#222" stroke-width="0.8"/>
<text x="627.83" y="359.20" text-anchor="middle">75</text>
<line x1="642.00" y1="351.90" x2="642.00" y2="355.10" stroke="#222" stroke-width="0.8"/>
<text x="642.00" y="359.20" text-anchor="middle">80</text>
<line x1="656.17" y1="351.90" x2="656.17" y2="355.10" stroke="#222" stroke-width="0.8"/>
<text x="656.17" y="359.20" text-anchor="middle">85</text>
<line x1="670.34" y1="351.90" x2="670.34" y2="355.10" stroke="#222" stroke-width="0.8"/>
<text x="670.34" y="359.20" text-anchor="middle">90</text>
<line x1="488.40" y1="352.00" x2="491.30" y2="352.00" stroke="#222" stroke-width="0.8"/>
<text x="488.30" y="353.70" text-anchor="end">0.0</text>
<line x1="488.40" y1="326.65" x2="491.30" y2="326.65" stroke="#222" stroke-width="0.8"/>
<text x="488.30" y="328.35" text-anchor="end">2.5</text>
<line x1="488.40" y1="301.30" x2="491.30" y2="301.30" stroke="#222" stroke-width="0.8"/>
<text x="488.30" y="303.00" text-anchor="end">5.0</text>
<line x1="488.40" y1="275.95" x2="491.30" y2="275.95" stroke="#222" stroke-width="0.8"/>
<text x="488.30" y="277.65" text-anchor="end">7.5</text>
<line x1="488.40" y1="250.60" x2="491.30" y2="250.60" stroke="#222" stroke-width="0.8"/>
<text x="488.30" y="252.30" text-anchor="end">10.0</text>
<line x1="488.40" y1="225.25" x2="491.30" y2="225.25" stroke="#222" stroke-width="0.8"/>
<text x="488.30" y="226.95" text-anchor="end">12.5</text>
</g>
<text transform="translate(473.20,276.90) rotate(-90)" text-anchor="middle" font-family="'Liberation Sans',Arial,sans-serif" font-weight="bold" font-size="6.2" letter-spacing="0.3" fill="#000" stroke="#000" stroke-width="0.18">Frequency</text>
<text transform="translate(577.50,381.30) scale(0.975,1)" text-anchor="middle" font-family="'Liberation Serif','Times New Roman',serif" font-weight="bold" font-size="18.6" fill="#000">C:S</text>
</g>
<g>
<clipPath id="c6"><rect x="26.80" y="406.00" width="187.80" height="152.00"/></clipPath>
<rect x="26.80" y="406.00" width="187.80" height="151.30" fill="#f0f0f0"/>
<polyline points="26.80,406.25 214.35,406.25 214.35,557.30" fill="none" stroke="#9a9a9a" stroke-width="1.5"/>
<rect x="48.10" y="514.19" width="12.10" height="43.11" fill="#d3ce97" stroke="#4a4a40" stroke-width="0.7"/>
<rect x="60.20" y="542.93" width="12.10" height="14.37" fill="#d3ce97" stroke="#4a4a40" stroke-width="0.7"/>
<rect x="72.30" y="542.93" width="12.10" height="14.37" fill="#d3ce97" stroke="#4a4a40" stroke-width="0.7"/>
<rect x="84.40" y="485.45" width="12.10" height="71.85" fill="#d3ce97" stroke="#4a4a40" stroke-width="0.7"/>
<rect x="96.50" y="528.56" width="12.10" height="28.74" fill="#d3ce97" stroke="#4a4a40" stroke-width="0.7"/>
<rect x="108.60" y="499.82" width="12.10" height="57.48" fill="#d3ce97" stroke="#4a4a40" stroke-width="0.7"/>
<rect x="120.70" y="427.97" width="12.10" height="129.33" fill="#d3ce97" stroke="#4a4a40" stroke-width="0.7"/>
<rect x="132.80" y="471.08" width="12.10" height="86.22" fill="#d3ce97" stroke="#4a4a40" stroke-width="0.7"/>
<rect x="144.90" y="413.60" width="12.10" height="143.70" fill="#d3ce97" stroke="#4a4a40" stroke-width="0.7"/>
<rect x="157.00" y="456.71" width="12.10" height="100.59" fill="#d3ce97" stroke="#4a4a40" stroke-width="0.7"/>
<rect x="169.10" y="485.45" width="12.10" height="71.85" fill="#d3ce97" stroke="#4a4a40" stroke-width="0.7"/>
<rect x="181.20" y="514.19" width="12.10" height="43.11" fill="#d3ce97" stroke="#4a4a40" stroke-width="0.7"/>
<polyline clip-path="url(#c6)" points="26.8,556.2 28.3,556.1 29.8,555.9 31.3,555.7 32.8,555.5 34.3,555.3 35.8,555.0 37.3,554.7 38.8,554.4 40.3,554.1 41.8,553.7 43.3,553.2 44.8,552.8 46.3,552.3 47.8,551.7 49.3,551.1 50.8,550.4 52.3,549.7 53.8,548.9 55.3,548.0 56.8,547.1 58.3,546.1 59.8,545.0 61.3,543.8 62.8,542.6 64.3,541.3 65.8,539.8 67.3,538.3 68.8,536.8 70.3,535.1 71.8,533.3 73.3,531.4 74.8,529.5 76.3,527.4 77.8,525.3 79.3,523.0 80.8,520.7 82.3,518.3 83.8,515.8 85.3,513.3 86.8,510.6 88.3,507.9 89.8,505.2 91.3,502.4 92.8,499.5 94.3,496.6 95.8,493.7 97.3,490.8 98.8,487.8 100.3,484.9 101.8,482.0 103.3,479.1 104.8,476.3 106.3,473.5 107.8,470.8 109.3,468.1 110.8,465.6 112.3,463.1 113.8,460.8 115.3,458.6 116.8,456.5 118.3,454.6 119.8,452.8 121.3,451.2 122.8,449.8 124.3,448.6 125.8,447.5 127.3,446.7 128.8,446.1 130.3,445.6 131.8,445.4 133.3,445.4 134.8,445.6 136.3,446.0 137.8,446.6 139.3,447.4 140.8,448.4 142.3,449.6 143.8,450.9 145.3,452.5 146.8,454.2 148.3,456.1 149.8,458.2 151.3,460.3 152.8,462.6 154.3,465.1 155.8,467.6 157.3,470.2 158.8,472.9 160.3,475.7 161.8,478.5 163.3,481.4 164.8,484.3 166.3,487.2 167.8,490.2 169.3,493.1 170.8,496.0 172.3,498.9 173.8,501.8 175.3,504.6 176.8,507.4 178.3,510.1 179.8,512.7 181.3,515.3 182.8,517.8 184.3,520.2 185.8,522.6 187.3,524.8 188.8,527.0 190.3,529.1 191.8,531.0 193.3,532.9 194.8,534.7 196.3,536.4 197.8,538.0 199.3,539.6 200.8,541.0 202.3,542.3 203.8,543.6 205.3,544.8 206.8,545.8 208.3,546.9 209.8,547.8 211.3,548.7 212.8,549.5 214.3,550.2" fill="none" stroke="#111" stroke-width="0.9"/>
<line x1="26.80" y1="557.30" x2="214.60" y2="557.30" stroke="#8c8c8c" stroke-width="0.9"/>
<line x1="26.95" y1="405.50" x2="26.95" y2="557.70" stroke="#888" stroke-width="1.4"/>
<g font-family="'Liberation Sans',Arial,sans-serif" font-size="5.4" fill="#222">
<line x1="36.00" y1="557.30" x2="36.00" y2="560.50" stroke="#222" stroke-width="0.8"/>
<text x="36.00" y="564.60" text-anchor="middle">8</text>
<line x1="60.20" y1="557.30" x2="60.20" y2="560.50" stroke="#222" stroke-width="0.8"/>
<text x="60.20" y="564.60" text-anchor="middle">9</text>
<line x1="84.40" y1="557.30" x2="84.40" y2="560.50" stroke="#222" stroke-width="0.8"/>
<text x="84.40" y="564.60" text-anchor="middle">10</text>
<line x1="108.60" y1="557.30" x2="108.60" y2="560.50" stroke="#222" stroke-width="0.8"/>
<text x="108.60" y="564.60" text-anchor="middle">11</text>
<line x1="132.80" y1="557.30" x2="132.80" y2="560.50" stroke="#222" stroke-width="0.8"/>
<text x="132.80" y="564.60" text-anchor="middle">12</text>
<line x1="157.00" y1="557.30" x2="157.00" y2="560.50" stroke="#222" stroke-width="0.8"/>
<text x="157.00" y="564.60" text-anchor="middle">13</text>
<line x1="181.20" y1="557.30" x2="181.20" y2="560.50" stroke="#222" stroke-width="0.8"/>
<text x="181.20" y="564.60" text-anchor="middle">14</text>
<line x1="205.40" y1="557.30" x2="205.40" y2="560.50" stroke="#222" stroke-width="0.8"/>
<text x="205.40" y="564.60" text-anchor="middle">15</text>
<line x1="23.90" y1="557.30" x2="26.80" y2="557.30" stroke="#222" stroke-width="0.8"/>
<text x="23.80" y="559.00" text-anchor="end">0</text>
<line x1="23.90" y1="528.56" x2="26.80" y2="528.56" stroke="#222" stroke-width="0.8"/>
<text x="23.80" y="530.26" text-anchor="end">2</text>
<line x1="23.90" y1="499.82" x2="26.80" y2="499.82" stroke="#222" stroke-width="0.8"/>
<text x="23.80" y="501.52" text-anchor="end">4</text>
<line x1="23.90" y1="471.08" x2="26.80" y2="471.08" stroke="#222" stroke-width="0.8"/>
<text x="23.80" y="472.78" text-anchor="end">6</text>
<line x1="23.90" y1="442.34" x2="26.80" y2="442.34" stroke="#222" stroke-width="0.8"/>
<text x="23.80" y="444.04" text-anchor="end">8</text>
<line x1="23.90" y1="413.60" x2="26.80" y2="413.60" stroke="#222" stroke-width="0.8"/>
<text x="23.80" y="415.30" text-anchor="end">10</text>
</g>
<text transform="translate(13.60,481.10) rotate(-90)" text-anchor="middle" font-family="'Liberation Sans',Arial,sans-serif" font-weight="bold" font-size="6.2" letter-spacing="0.3" fill="#000" stroke="#000" stroke-width="0.18">Frequency</text>
<text transform="translate(114.75,584.20) scale(0.95,1)" text-anchor="middle" font-family="'Liberation Serif','Times New Roman',serif" font-weight="bold" font-size="18.6" fill="#000">C:N</text>
<text transform="translate(39.00,425.70) scale(0.9,1)" font-family="'Liberation Serif','Times New Roman',serif" font-weight="bold" font-size="17" fill="#000">c</text>
</g>
<g>
<clipPath id="c7"><rect x="263.80" y="405.40" width="184.20" height="151.60"/></clipPath>
<rect x="263.80" y="405.40" width="184.20" height="150.90" fill="#f0f0f0"/>
<polyline points="263.80,405.65 447.75,405.65 447.75,556.30" fill="none" stroke="#9a9a9a" stroke-width="1.5"/>
<rect x="273.00" y="525.58" width="16.54" height="30.72" fill="#d3ce97" stroke="#4a4a40" stroke-width="0.7"/>
<rect x="289.54" y="515.34" width="16.53" height="40.96" fill="#d3ce97" stroke="#4a4a40" stroke-width="0.7"/>
<rect x="306.07" y="505.10" width="16.54" height="51.20" fill="#d3ce97" stroke="#4a4a40" stroke-width="0.7"/>
<rect x="322.61" y="484.62" width="16.53" height="71.68" fill="#d3ce97" stroke="#4a4a40" stroke-width="0.7"/>
<rect x="339.14" y="423.18" width="16.54" height="133.12" fill="#d3ce97" stroke="#4a4a40" stroke-width="0.7"/>
<rect x="355.68" y="443.66" width="16.53" height="112.64" fill="#d3ce97" stroke="#4a4a40" stroke-width="0.7"/>
<rect x="372.21" y="515.34" width="16.54" height="40.96" fill="#d3ce97" stroke="#4a4a40" stroke-width="0.7"/>
<rect x="388.75" y="505.10" width="16.53" height="51.20" fill="#d3ce97" stroke="#4a4a40" stroke-width="0.7"/>
<rect x="405.28" y="535.82" width="16.54" height="20.48" fill="#d3ce97" stroke="#4a4a40" stroke-width="0.7"/>
<rect x="421.81" y="535.82" width="16.54" height="20.48" fill="#d3ce97" stroke="#4a4a40" stroke-width="0.7"/>
<polyline clip-path="url(#c7)" points="263.8,550.3 265.3,549.7 266.8,549.0 268.3,548.3 269.8,547.5 271.3,546.7 272.8,545.8 274.3,544.8 275.8,543.8 277.3,542.7 278.8,541.5 280.3,540.3 281.8,539.0 283.3,537.6 284.8,536.1 286.3,534.6 287.8,533.0 289.3,531.3 290.8,529.5 292.3,527.6 293.8,525.7 295.3,523.7 296.8,521.6 298.3,519.4 299.8,517.2 301.3,514.9 302.8,512.6 304.3,510.2 305.8,507.7 307.3,505.3 308.8,502.7 310.3,500.2 311.8,497.6 313.3,495.0 314.8,492.4 316.3,489.8 317.8,487.2 319.3,484.7 320.8,482.1 322.3,479.6 323.8,477.2 325.3,474.8 326.8,472.5 328.3,470.3 329.8,468.2 331.3,466.1 332.8,464.2 334.3,462.4 335.8,460.7 337.3,459.2 338.8,457.8 340.3,456.5 341.8,455.4 343.3,454.5 344.8,453.7 346.3,453.1 347.8,452.7 349.3,452.4 350.8,452.4 352.3,452.5 353.8,452.7 355.3,453.2 356.8,453.8 358.3,454.6 359.8,455.6 361.3,456.7 362.8,458.0 364.3,459.4 365.8,460.9 367.3,462.6 368.8,464.5 370.3,466.4 371.8,468.4 373.3,470.6 374.8,472.8 376.3,475.1 377.8,477.5 379.3,480.0 380.8,482.5 382.3,485.0 383.8,487.6 385.3,490.2 386.8,492.7 388.3,495.3 389.8,497.9 391.3,500.5 392.8,503.1 394.3,505.6 395.8,508.1 397.3,510.5 398.8,512.9 400.3,515.2 401.8,517.5 403.3,519.7 404.8,521.9 406.3,523.9 407.8,525.9 409.3,527.9 410.8,529.7 412.3,531.5 413.8,533.2 415.3,534.8 416.8,536.3 418.3,537.8 419.8,539.2 421.3,540.5 422.8,541.7 424.3,542.9 425.8,543.9 427.3,545.0 428.8,545.9 430.3,546.8 431.8,547.6 433.3,548.4 434.8,549.1 436.3,549.8 437.8,550.4 439.3,550.9 440.8,551.4 442.3,551.9 443.8,552.4 445.3,552.8 446.8,553.1" fill="none" stroke="#111" stroke-width="0.9"/>
<line x1="263.80" y1="556.30" x2="448.00" y2="556.30" stroke="#8c8c8c" stroke-width="0.9"/>
<line x1="263.95" y1="404.90" x2="263.95" y2="556.70" stroke="#888" stroke-width="1.5"/>
<g font-family="'Liberation Sans',Arial,sans-serif" font-size="5.4" fill="#222">
<line x1="273.00" y1="556.30" x2="273.00" y2="559.50" stroke="#222" stroke-width="0.8"/>
<text x="273.00" y="563.60" text-anchor="middle">30</text>
<line x1="306.07" y1="556.30" x2="306.07" y2="559.50" stroke="#222" stroke-width="0.8"/>
<text x="306.07" y="563.60" text-anchor="middle">40</text>
<line x1="339.14" y1="556.30" x2="339.14" y2="559.50" stroke="#222" stroke-width="0.8"/>
<text x="339.14" y="563.60" text-anchor="middle">50</text>
<line x1="372.21" y1="556.30" x2="372.21" y2="559.50" stroke="#222" stroke-width="0.8"/>
<text x="372.21" y="563.60" text-anchor="middle">60</text>
<line x1="405.28" y1="556.30" x2="405.28" y2="559.50" stroke="#222" stroke-width="0.8"/>
<text x="405.28" y="563.60" text-anchor="middle">70</text>
<line x1="438.35" y1="556.30" x2="438.35" y2="559.50" stroke="#222" stroke-width="0.8"/>
<text x="438.35" y="563.60" text-anchor="middle">80</text>
<line x1="260.90" y1="556.30" x2="263.80" y2="556.30" stroke="#222" stroke-width="0.8"/>
<text x="260.80" y="558.00" text-anchor="end">0.0</text>
<line x1="260.90" y1="530.70" x2="263.80" y2="530.70" stroke="#222" stroke-width="0.8"/>
<text x="260.80" y="532.40" text-anchor="end">2.5</text>
<line x1="260.90" y1="505.10" x2="263.80" y2="505.10" stroke="#222" stroke-width="0.8"/>
<text x="260.80" y="506.80" text-anchor="end">5.0</text>
<line x1="260.90" y1="479.50" x2="263.80" y2="479.50" stroke="#222" stroke-width="0.8"/>
<text x="260.80" y="481.20" text-anchor="end">7.5</text>
<line x1="260.90" y1="453.90" x2="263.80" y2="453.90" stroke="#222" stroke-width="0.8"/>
<text x="260.80" y="455.60" text-anchor="end">10.0</text>
<line x1="260.90" y1="428.30" x2="263.80" y2="428.30" stroke="#222" stroke-width="0.8"/>
<text x="260.80" y="430.00" text-anchor="end">12.5</text>
</g>
<text transform="translate(246.60,480.50) rotate(-90)" text-anchor="middle" font-family="'Liberation Sans',Arial,sans-serif" font-weight="bold" font-size="6.2" letter-spacing="0.3" fill="#000" stroke="#000" stroke-width="0.18">Frequency</text>
<text transform="translate(347.40,584.20) scale(0.985,1)" text-anchor="middle" font-family="'Liberation Serif','Times New Roman',serif" font-weight="bold" font-size="18.6" fill="#000">C:P</text>
</g>
<g>
<clipPath id="c8"><rect x="491.70" y="405.30" width="188.70" height="151.40"/></clipPath>
<rect x="491.70" y="405.30" width="188.70" height="150.70" fill="#f0f0f0"/>
<polyline points="491.70,405.55 680.15,405.55 680.15,556.00" fill="none" stroke="#9a9a9a" stroke-width="1.5"/>
<rect x="515.21" y="513.19" width="14.21" height="42.81" fill="#d3ce97" stroke="#4a4a40" stroke-width="0.7"/>
<rect x="529.42" y="541.73" width="14.21" height="14.27" fill="#d3ce97" stroke="#4a4a40" stroke-width="0.7"/>
<rect x="543.63" y="498.92" width="14.21" height="57.08" fill="#d3ce97" stroke="#4a4a40" stroke-width="0.7"/>
<rect x="557.84" y="456.11" width="14.21" height="99.89" fill="#d3ce97" stroke="#4a4a40" stroke-width="0.7"/>
<rect x="572.05" y="484.65" width="14.21" height="71.35" fill="#d3ce97" stroke="#4a4a40" stroke-width="0.7"/>
<rect x="586.26" y="427.57" width="14.21" height="128.43" fill="#d3ce97" stroke="#4a4a40" stroke-width="0.7"/>
<rect x="600.47" y="470.38" width="14.21" height="85.62" fill="#d3ce97" stroke="#4a4a40" stroke-width="0.7"/>
<rect x="614.68" y="441.84" width="14.21" height="114.16" fill="#d3ce97" stroke="#4a4a40" stroke-width="0.7"/>
<rect x="628.89" y="441.84" width="14.21" height="114.16" fill="#d3ce97" stroke="#4a4a40" stroke-width="0.7"/>
<rect x="643.10" y="513.19" width="14.21" height="42.81" fill="#d3ce97" stroke="#4a4a40" stroke-width="0.7"/>
<rect x="657.31" y="527.46" width="14.21" height="28.54" fill="#d3ce97" stroke="#4a4a40" stroke-width="0.7"/>
<polyline clip-path="url(#c8)" points="491.7,554.5 493.2,554.3 494.7,554.1 496.2,553.9 497.7,553.6 499.2,553.3 500.7,553.0 502.2,552.6 503.7,552.2 505.2,551.8 506.7,551.3 508.2,550.8 509.7,550.2 511.2,549.6 512.7,548.9 514.2,548.1 515.7,547.3 517.2,546.5 518.7,545.5 520.2,544.5 521.7,543.4 523.2,542.2 524.7,541.0 526.2,539.6 527.7,538.2 529.2,536.6 530.7,535.0 532.2,533.3 533.7,531.5 535.2,529.6 536.7,527.6 538.2,525.4 539.7,523.2 541.2,520.9 542.7,518.5 544.2,516.0 545.7,513.4 547.2,510.7 548.7,508.0 550.2,505.1 551.7,502.2 553.2,499.2 554.7,496.2 556.2,493.1 557.7,489.9 559.2,486.7 560.7,483.5 562.2,480.3 563.7,477.1 565.2,473.9 566.7,470.7 568.2,467.5 569.7,464.4 571.2,461.3 572.7,458.3 574.2,455.4 575.7,452.6 577.2,449.9 578.7,447.3 580.2,444.8 581.7,442.5 583.2,440.4 584.7,438.4 586.2,436.6 587.7,434.9 589.2,433.5 590.7,432.3 592.2,431.2 593.7,430.4 595.2,429.8 596.7,429.4 598.2,429.3 599.7,429.4 601.2,429.6 602.7,430.2 604.2,430.9 605.7,431.8 607.2,433.0 608.7,434.3 610.2,435.9 611.7,437.6 613.2,439.6 614.7,441.6 616.2,443.9 617.7,446.3 619.2,448.8 620.7,451.5 622.2,454.3 623.7,457.2 625.2,460.1 626.7,463.2 628.2,466.3 629.7,469.4 631.2,472.6 632.7,475.8 634.2,479.0 635.7,482.3 637.2,485.5 638.7,488.7 640.2,491.8 641.7,494.9 643.2,498.0 644.7,501.0 646.2,504.0 647.7,506.8 649.2,509.6 650.7,512.4 652.2,515.0 653.7,517.5 655.2,520.0 656.7,522.3 658.2,524.6 659.7,526.7 661.2,528.8 662.7,530.7 664.2,532.6 665.7,534.3 667.2,536.0 668.7,537.6 670.2,539.0 671.7,540.4 673.2,541.7 674.7,542.9 676.2,544.1 677.7,545.1 679.2,546.1" fill="none" stroke="#111" stroke-width="0.9"/>
<line x1="491.70" y1="556.00" x2="680.40" y2="556.00" stroke="#8c8c8c" stroke-width="0.9"/>
<line x1="491.85" y1="404.80" x2="491.85" y2="556.40" stroke="#444" stroke-width="1"/>
<g font-family="'Liberation Sans',Arial,sans-serif" font-size="5.4" fill="#222">
<line x1="501.00" y1="556.00" x2="501.00" y2="559.20" stroke="#222" stroke-width="0.8"/>
<text x="501.00" y="563.30" text-anchor="middle">30</text>
<line x1="529.42" y1="556.00" x2="529.42" y2="559.20" stroke="#222" stroke-width="0.8"/>
<text x="529.42" y="563.30" text-anchor="middle">40</text>
<line x1="557.84" y1="556.00" x2="557.84" y2="559.20" stroke="#222" stroke-width="0.8"/>
<text x="557.84" y="563.30" text-anchor="middle">50</text>
<line x1="586.26" y1="556.00" x2="586.26" y2="559.20" stroke="#222" stroke-width="0.8"/>
<text x="586.26" y="563.30" text-anchor="middle">60</text>
<line x1="614.68" y1="556.00" x2="614.68" y2="559.20" stroke="#222" stroke-width="0.8"/>
<text x="614.68" y="563.30" text-anchor="middle">70</text>
<line x1="643.10" y1="556.00" x2="643.10" y2="559.20" stroke="#222" stroke-width="0.8"/>
<text x="643.10" y="563.30" text-anchor="middle">80</text>
<line x1="671.52" y1="556.00" x2="671.52" y2="559.20" stroke="#222" stroke-width="0.8"/>
<text x="671.52" y="563.30" text-anchor="middle">90</text>
<line x1="488.80" y1="556.00" x2="491.70" y2="556.00" stroke="#222" stroke-width="0.8"/>
<text x="488.70" y="557.70" text-anchor="end">0</text>
<line x1="488.80" y1="527.46" x2="491.70" y2="527.46" stroke="#222" stroke-width="0.8"/>
<text x="488.70" y="529.16" text-anchor="end">2</text>
<line x1="488.80" y1="498.92" x2="491.70" y2="498.92" stroke="#222" stroke-width="0.8"/>
<text x="488.70" y="500.62" text-anchor="end">4</text>
<line x1="488.80" y1="470.38" x2="491.70" y2="470.38" stroke="#222" stroke-width="0.8"/>
<text x="488.70" y="472.08" text-anchor="end">6</text>
<line x1="488.80" y1="441.84" x2="491.70" y2="441.84" stroke="#222" stroke-width="0.8"/>
<text x="488.70" y="443.54" text-anchor="end">8</text>
<line x1="488.80" y1="413.30" x2="491.70" y2="413.30" stroke="#222" stroke-width="0.8"/>
<text x="488.70" y="415.00" text-anchor="end">10</text>
</g>
<text transform="translate(478.50,480.50) rotate(-90)" text-anchor="middle" font-family="'Liberation Sans',Arial,sans-serif" font-weight="bold" font-size="6.2" letter-spacing="0.3" fill="#000" stroke="#000" stroke-width="0.18">Frequency</text>
<text transform="translate(580.40,584.20) scale(0.975,1)" text-anchor="middle" font-family="'Liberation Serif','Times New Roman',serif" font-weight="bold" font-size="18.6" fill="#000">C:S</text>
</g>
<g>
<clipPath id="c9"><rect x="30.70" y="597.40" width="185.20" height="150.00"/></clipPath>
<rect x="30.70" y="597.40" width="185.20" height="149.30" fill="#f0f0f0"/>
<polyline points="30.70,597.65 215.65,597.65 215.65,746.70" fill="none" stroke="#9a9a9a" stroke-width="1.5"/>
<rect x="53.25" y="736.60" width="13.95" height="10.10" fill="#d3ce97" stroke="#4a4a40" stroke-width="0.7"/>
<rect x="67.20" y="736.60" width="13.95" height="10.10" fill="#d3ce97" stroke="#4a4a40" stroke-width="0.7"/>
<rect x="81.15" y="726.50" width="13.95" height="20.20" fill="#d3ce97" stroke="#4a4a40" stroke-width="0.7"/>
<rect x="95.10" y="736.60" width="13.95" height="10.10" fill="#d3ce97" stroke="#4a4a40" stroke-width="0.7"/>
<rect x="123.00" y="676.00" width="13.95" height="70.70" fill="#d3ce97" stroke="#4a4a40" stroke-width="0.7"/>
<rect x="136.95" y="615.40" width="13.95" height="131.30" fill="#d3ce97" stroke="#4a4a40" stroke-width="0.7"/>
<rect x="150.90" y="615.40" width="13.95" height="131.30" fill="#d3ce97" stroke="#4a4a40" stroke-width="0.7"/>
<rect x="164.85" y="635.60" width="13.95" height="111.10" fill="#d3ce97" stroke="#4a4a40" stroke-width="0.7"/>
<rect x="178.80" y="696.20" width="13.95" height="50.50" fill="#d3ce97" stroke="#4a4a40" stroke-width="0.7"/>
<polyline clip-path="url(#c9)" points="30.7,746.7 32.2,746.7 33.7,746.7 35.2,746.7 36.7,746.7 38.2,746.7 39.7,746.7 41.2,746.7 42.7,746.6 44.2,746.6 45.7,746.6 47.2,746.6 48.7,746.6 50.2,746.5 51.7,746.5 53.2,746.5 54.7,746.4 56.2,746.4 57.7,746.3 59.2,746.2 60.7,746.1 62.2,746.0 63.7,745.9 65.2,745.7 66.7,745.5 68.2,745.3 69.7,745.1 71.2,744.8 72.7,744.5 74.2,744.1 75.7,743.7 77.2,743.2 78.7,742.7 80.2,742.1 81.7,741.4 83.2,740.7 84.7,739.8 86.2,738.9 87.7,737.8 89.2,736.7 90.7,735.4 92.2,734.0 93.7,732.5 95.2,730.8 96.7,729.0 98.2,727.1 99.7,725.0 101.2,722.8 102.7,720.4 104.2,717.9 105.7,715.2 107.2,712.4 108.7,709.4 110.2,706.3 111.7,703.1 113.2,699.7 114.7,696.3 116.2,692.7 117.7,689.1 119.2,685.4 120.7,681.7 122.2,678.0 123.7,674.3 125.2,670.6 126.7,667.0 128.2,663.5 129.7,660.0 131.2,656.7 132.7,653.6 134.2,650.6 135.7,647.8 137.2,645.3 138.7,643.0 140.2,641.0 141.7,639.2 143.2,637.8 144.7,636.7 146.2,635.9 147.7,635.4 149.2,635.3 150.7,635.5 152.2,636.1 153.7,636.9 155.2,638.1 156.7,639.7 158.2,641.5 159.7,643.6 161.2,645.9 162.7,648.5 164.2,651.4 165.7,654.4 167.2,657.6 168.7,660.9 170.2,664.4 171.7,668.0 173.2,671.6 174.7,675.3 176.2,679.0 177.7,682.7 179.2,686.4 180.7,690.1 182.2,693.7 183.7,697.2 185.2,700.6 186.7,703.9 188.2,707.1 189.7,710.2 191.2,713.1 192.7,715.9 194.2,718.6 195.7,721.1 197.2,723.4 198.7,725.6 200.2,727.6 201.7,729.5 203.2,731.3 204.7,732.9 206.2,734.4 207.7,735.8 209.2,737.0 210.7,738.1 212.2,739.1 213.7,740.1 215.2,740.9" fill="none" stroke="#111" stroke-width="0.9"/>
<line x1="30.70" y1="746.70" x2="215.90" y2="746.70" stroke="#8c8c8c" stroke-width="0.9"/>
<line x1="30.85" y1="596.90" x2="30.85" y2="747.10" stroke="#444" stroke-width="1"/>
<g font-family="'Liberation Sans',Arial,sans-serif" font-size="5.4" fill="#222">
<line x1="39.30" y1="746.70" x2="39.30" y2="749.90" stroke="#222" stroke-width="0.8"/>
<text x="39.30" y="754.00" text-anchor="middle">7.0</text>
<line x1="67.20" y1="746.70" x2="67.20" y2="749.90" stroke="#222" stroke-width="0.8"/>
<text x="67.20" y="754.00" text-anchor="middle">8.0</text>
<line x1="95.10" y1="746.70" x2="95.10" y2="749.90" stroke="#222" stroke-width="0.8"/>
<text x="95.10" y="754.00" text-anchor="middle">9.0</text>
<line x1="123.00" y1="746.70" x2="123.00" y2="749.90" stroke="#222" stroke-width="0.8"/>
<text x="123.00" y="754.00" text-anchor="middle">10.0</text>
<line x1="150.90" y1="746.70" x2="150.90" y2="749.90" stroke="#222" stroke-width="0.8"/>
<text x="150.90" y="754.00" text-anchor="middle">11.0</text>
<line x1="178.80" y1="746.70" x2="178.80" y2="749.90" stroke="#222" stroke-width="0.8"/>
<text x="178.80" y="754.00" text-anchor="middle">12.0</text>
<line x1="206.70" y1="746.70" x2="206.70" y2="749.90" stroke="#222" stroke-width="0.8"/>
<text x="206.70" y="754.00" text-anchor="middle">13.0</text>
<line x1="27.80" y1="746.70" x2="30.70" y2="746.70" stroke="#222" stroke-width="0.8"/>
<text x="27.70" y="748.40" text-anchor="end">0.0</text>
<line x1="27.80" y1="721.45" x2="30.70" y2="721.45" stroke="#222" stroke-width="0.8"/>
<text x="27.70" y="723.15" text-anchor="end">2.5</text>
<line x1="27.80" y1="696.20" x2="30.70" y2="696.20" stroke="#222" stroke-width="0.8"/>
<text x="27.70" y="697.90" text-anchor="end">5.0</text>
<line x1="27.80" y1="670.95" x2="30.70" y2="670.95" stroke="#222" stroke-width="0.8"/>
<text x="27.70" y="672.65" text-anchor="end">7.5</text>
<line x1="27.80" y1="645.70" x2="30.70" y2="645.70" stroke="#222" stroke-width="0.8"/>
<text x="27.70" y="647.40" text-anchor="end">10.0</text>
<line x1="27.80" y1="620.45" x2="30.70" y2="620.45" stroke="#222" stroke-width="0.8"/>
<text x="27.70" y="622.15" text-anchor="end">12.5</text>
</g>
<text transform="translate(13.00,671.70) rotate(-90)" text-anchor="middle" font-family="'Liberation Sans',Arial,sans-serif" font-weight="bold" font-size="6.2" letter-spacing="0.3" fill="#000" stroke="#000" stroke-width="0.18">Frequency</text>
<text transform="translate(114.75,776.00) scale(0.95,1)" text-anchor="middle" font-family="'Liberation Serif','Times New Roman',serif" font-weight="bold" font-size="18.6" fill="#000">C:N</text>
<text transform="translate(43.40,616.00) scale(0.9,1)" font-family="'Liberation Serif','Times New Roman',serif" font-weight="bold" font-size="17" fill="#000">d</text>
</g>
<g>
<clipPath id="c10"><rect x="260.00" y="597.60" width="188.70" height="150.10"/></clipPath>
<rect x="260.00" y="597.60" width="188.70" height="149.40" fill="#f0f0f0"/>
<polyline points="260.00,597.85 448.45,597.85 448.45,747.00" fill="none" stroke="#9a9a9a" stroke-width="1.5"/>
<rect x="269.30" y="740.03" width="14.20" height="7.07" fill="#d3ce97" stroke="#4a4a40" stroke-width="0.7"/>
<rect x="297.70" y="725.89" width="14.20" height="21.21" fill="#d3ce97" stroke="#4a4a40" stroke-width="0.7"/>
<rect x="326.10" y="732.96" width="14.20" height="14.14" fill="#d3ce97" stroke="#4a4a40" stroke-width="0.7"/>
<rect x="340.30" y="718.82" width="14.20" height="28.28" fill="#d3ce97" stroke="#4a4a40" stroke-width="0.7"/>
<rect x="354.50" y="619.84" width="14.20" height="127.26" fill="#d3ce97" stroke="#4a4a40" stroke-width="0.7"/>
<rect x="368.70" y="626.91" width="14.20" height="120.19" fill="#d3ce97" stroke="#4a4a40" stroke-width="0.7"/>
<rect x="382.90" y="718.82" width="14.20" height="28.28" fill="#d3ce97" stroke="#4a4a40" stroke-width="0.7"/>
<rect x="397.10" y="718.82" width="14.20" height="28.28" fill="#d3ce97" stroke="#4a4a40" stroke-width="0.7"/>
<rect x="411.30" y="740.03" width="14.20" height="7.07" fill="#d3ce97" stroke="#4a4a40" stroke-width="0.7"/>
<polyline clip-path="url(#c10)" points="260.0,747.1 261.5,747.1 263.0,747.1 264.5,747.1 266.0,747.1 267.5,747.0 269.0,747.0 270.5,747.0 272.0,747.0 273.5,747.0 275.0,746.9 276.5,746.9 278.0,746.8 279.5,746.8 281.0,746.7 282.5,746.6 284.0,746.5 285.5,746.4 287.0,746.3 288.5,746.1 290.0,746.0 291.5,745.8 293.0,745.5 294.5,745.2 296.0,744.9 297.5,744.5 299.0,744.1 300.5,743.6 302.0,743.1 303.5,742.5 305.0,741.8 306.5,741.0 308.0,740.2 309.5,739.2 311.0,738.1 312.5,737.0 314.0,735.7 315.5,734.3 317.0,732.8 318.5,731.2 320.0,729.4 321.5,727.5 323.0,725.5 324.5,723.3 326.0,721.0 327.5,718.6 329.0,716.1 330.5,713.5 332.0,710.8 333.5,708.0 335.0,705.1 336.5,702.2 338.0,699.2 339.5,696.3 341.0,693.3 342.5,690.3 344.0,687.4 345.5,684.5 347.0,681.7 348.5,679.0 350.0,676.5 351.5,674.1 353.0,671.9 354.5,669.9 356.0,668.1 357.5,666.6 359.0,665.3 360.5,664.2 362.0,663.5 363.5,663.0 365.0,662.8 366.5,662.8 368.0,663.2 369.5,663.9 371.0,664.8 372.5,666.0 374.0,667.5 375.5,669.2 377.0,671.1 378.5,673.2 380.0,675.5 381.5,678.0 383.0,680.6 384.5,683.4 386.0,686.2 387.5,689.1 389.0,692.1 390.5,695.1 392.0,698.1 393.5,701.0 395.0,704.0 396.5,706.9 398.0,709.7 399.5,712.4 401.0,715.1 402.5,717.7 404.0,720.1 405.5,722.4 407.0,724.6 408.5,726.7 410.0,728.6 411.5,730.5 413.0,732.2 414.5,733.7 416.0,735.2 417.5,736.5 419.0,737.7 420.5,738.8 422.0,739.8 423.5,740.7 425.0,741.5 426.5,742.2 428.0,742.9 429.5,743.4 431.0,743.9 432.5,744.4 434.0,744.8 435.5,745.1 437.0,745.4 438.5,745.7 440.0,745.9 441.5,746.1 443.0,746.2 444.5,746.4 446.0,746.5 447.5,746.6" fill="none" stroke="#111" stroke-width="0.9"/>
<line x1="260.00" y1="747.00" x2="448.70" y2="747.00" stroke="#8c8c8c" stroke-width="0.9"/>
<line x1="260.15" y1="597.10" x2="260.15" y2="747.40" stroke="#777" stroke-width="1.2"/>
<g font-family="'Liberation Sans',Arial,sans-serif" font-size="5.4" fill="#222">
<line x1="269.30" y1="747.00" x2="269.30" y2="750.20" stroke="#222" stroke-width="0.8"/>
<text x="269.30" y="754.30" text-anchor="middle">10</text>
<line x1="297.70" y1="747.00" x2="297.70" y2="750.20" stroke="#222" stroke-width="0.8"/>
<text x="297.70" y="754.30" text-anchor="middle">20</text>
<line x1="326.10" y1="747.00" x2="326.10" y2="750.20" stroke="#222" stroke-width="0.8"/>
<text x="326.10" y="754.30" text-anchor="middle">30</text>
<line x1="354.50" y1="747.00" x2="354.50" y2="750.20" stroke="#222" stroke-width="0.8"/>
<text x="354.50" y="754.30" text-anchor="middle">40</text>
<line x1="382.90" y1="747.00" x2="382.90" y2="750.20" stroke="#222" stroke-width="0.8"/>
<text x="382.90" y="754.30" text-anchor="middle">50</text>
<line x1="411.30" y1="747.00" x2="411.30" y2="750.20" stroke="#222" stroke-width="0.8"/>
<text x="411.30" y="754.30" text-anchor="middle">60</text>
<line x1="439.70" y1="747.00" x2="439.70" y2="750.20" stroke="#222" stroke-width="0.8"/>
<text x="439.70" y="754.30" text-anchor="middle">70</text>
<line x1="257.10" y1="747.10" x2="260.00" y2="747.10" stroke="#222" stroke-width="0.8"/>
<text x="257.00" y="748.80" text-anchor="end">0</text>
<line x1="257.10" y1="711.75" x2="260.00" y2="711.75" stroke="#222" stroke-width="0.8"/>
<text x="257.00" y="713.45" text-anchor="end">5</text>
<line x1="257.10" y1="676.40" x2="260.00" y2="676.40" stroke="#222" stroke-width="0.8"/>
<text x="257.00" y="678.10" text-anchor="end">10</text>
<line x1="257.10" y1="641.05" x2="260.00" y2="641.05" stroke="#222" stroke-width="0.8"/>
<text x="257.00" y="642.75" text-anchor="end">15</text>
<line x1="257.10" y1="605.70" x2="260.00" y2="605.70" stroke="#222" stroke-width="0.8"/>
<text x="257.00" y="607.40" text-anchor="end">20</text>
</g>
<text transform="translate(246.60,671.90) rotate(-90)" text-anchor="middle" font-family="'Liberation Sans',Arial,sans-serif" font-weight="bold" font-size="6.2" letter-spacing="0.3" fill="#000" stroke="#000" stroke-width="0.18">Frequency</text>
<text transform="translate(347.60,776.00) scale(0.985,1)" text-anchor="middle" font-family="'Liberation Serif','Times New Roman',serif" font-weight="bold" font-size="18.6" fill="#000">C:P</text>
</g>
<g>
<clipPath id="c11"><rect x="494.00" y="596.30" width="182.60" height="150.10"/></clipPath>
<rect x="494.00" y="596.30" width="182.60" height="149.40" fill="#f0f0f0"/>
<polyline points="494.00,596.55 676.35,596.55 676.35,745.70" fill="none" stroke="#9a9a9a" stroke-width="1.5"/>
<rect x="515.01" y="733.90" width="11.72" height="11.80" fill="#d3ce97" stroke="#4a4a40" stroke-width="0.7"/>
<rect x="526.73" y="733.90" width="11.72" height="11.80" fill="#d3ce97" stroke="#4a4a40" stroke-width="0.7"/>
<rect x="538.45" y="733.90" width="11.71" height="11.80" fill="#d3ce97" stroke="#4a4a40" stroke-width="0.7"/>
<rect x="550.16" y="733.90" width="11.72" height="11.80" fill="#d3ce97" stroke="#4a4a40" stroke-width="0.7"/>
<rect x="561.88" y="722.10" width="11.72" height="23.60" fill="#d3ce97" stroke="#4a4a40" stroke-width="0.7"/>
<rect x="573.59" y="710.30" width="11.72" height="35.40" fill="#d3ce97" stroke="#4a4a40" stroke-width="0.7"/>
<rect x="585.31" y="639.50" width="11.71" height="106.20" fill="#d3ce97" stroke="#4a4a40" stroke-width="0.7"/>
<rect x="597.02" y="615.90" width="11.72" height="129.80" fill="#d3ce97" stroke="#4a4a40" stroke-width="0.7"/>
<rect x="608.74" y="627.70" width="11.72" height="118.00" fill="#d3ce97" stroke="#4a4a40" stroke-width="0.7"/>
<rect x="620.45" y="698.50" width="11.71" height="47.20" fill="#d3ce97" stroke="#4a4a40" stroke-width="0.7"/>
<rect x="632.16" y="651.30" width="11.72" height="94.40" fill="#d3ce97" stroke="#4a4a40" stroke-width="0.7"/>
<rect x="643.88" y="710.30" width="11.72" height="35.40" fill="#d3ce97" stroke="#4a4a40" stroke-width="0.7"/>
<polyline clip-path="url(#c11)" points="494.0,745.7 495.5,745.6 497.0,745.6 498.5,745.6 500.0,745.6 501.5,745.6 503.0,745.5 504.5,745.5 506.0,745.5 507.5,745.4 509.0,745.4 510.5,745.3 512.0,745.2 513.5,745.1 515.0,745.0 516.5,744.9 518.0,744.8 519.5,744.6 521.0,744.4 522.5,744.2 524.0,744.0 525.5,743.7 527.0,743.4 528.5,743.0 530.0,742.6 531.5,742.2 533.0,741.7 534.5,741.1 536.0,740.4 537.5,739.7 539.0,739.0 540.5,738.1 542.0,737.1 543.5,736.1 545.0,734.9 546.5,733.7 548.0,732.3 549.5,730.8 551.0,729.2 552.5,727.5 554.0,725.7 555.5,723.7 557.0,721.6 558.5,719.4 560.0,717.1 561.5,714.6 563.0,712.0 564.5,709.3 566.0,706.5 567.5,703.6 569.0,700.6 570.5,697.5 572.0,694.3 573.5,691.1 575.0,687.8 576.5,684.5 578.0,681.2 579.5,677.9 581.0,674.7 582.5,671.4 584.0,668.3 585.5,665.2 587.0,662.3 588.5,659.4 590.0,656.8 591.5,654.2 593.0,651.9 594.5,649.8 596.0,647.9 597.5,646.2 599.0,644.8 600.5,643.6 602.0,642.8 603.5,642.1 605.0,641.8 606.5,641.8 608.0,642.0 609.5,642.5 611.0,643.3 612.5,644.4 614.0,645.7 615.5,647.3 617.0,649.1 618.5,651.2 620.0,653.4 621.5,655.9 623.0,658.5 624.5,661.3 626.0,664.2 627.5,667.3 629.0,670.4 630.5,673.6 632.0,676.8 633.5,680.1 635.0,683.4 636.5,686.7 638.0,690.0 639.5,693.2 641.0,696.4 642.5,699.5 644.0,702.6 645.5,705.5 647.0,708.4 648.5,711.1 650.0,713.7 651.5,716.3 653.0,718.6 654.5,720.9 656.0,723.0 657.5,725.0 659.0,726.9 660.5,728.7 662.0,730.3 663.5,731.8 665.0,733.2 666.5,734.5 668.0,735.7 669.5,736.8 671.0,737.8 672.5,738.7 674.0,739.5 675.5,740.2" fill="none" stroke="#111" stroke-width="0.9"/>
<line x1="494.00" y1="745.70" x2="676.60" y2="745.70" stroke="#8c8c8c" stroke-width="0.9"/>
<line x1="494.15" y1="595.80" x2="494.15" y2="746.10" stroke="#383838" stroke-width="1"/>
<g font-family="'Liberation Sans',Arial,sans-serif" font-size="5.4" fill="#222">
<line x1="503.30" y1="745.70" x2="503.30" y2="748.90" stroke="#222" stroke-width="0.8"/>
<text x="503.30" y="753.00" text-anchor="middle">10</text>
<line x1="526.73" y1="745.70" x2="526.73" y2="748.90" stroke="#222" stroke-width="0.8"/>
<text x="526.73" y="753.00" text-anchor="middle">20</text>
<line x1="550.16" y1="745.70" x2="550.16" y2="748.90" stroke="#222" stroke-width="0.8"/>
<text x="550.16" y="753.00" text-anchor="middle">30</text>
<line x1="573.59" y1="745.70" x2="573.59" y2="748.90" stroke="#222" stroke-width="0.8"/>
<text x="573.59" y="753.00" text-anchor="middle">40</text>
<line x1="597.02" y1="745.70" x2="597.02" y2="748.90" stroke="#222" stroke-width="0.8"/>
<text x="597.02" y="753.00" text-anchor="middle">50</text>
<line x1="620.45" y1="745.70" x2="620.45" y2="748.90" stroke="#222" stroke-width="0.8"/>
<text x="620.45" y="753.00" text-anchor="middle">60</text>
<line x1="643.88" y1="745.70" x2="643.88" y2="748.90" stroke="#222" stroke-width="0.8"/>
<text x="643.88" y="753.00" text-anchor="middle">70</text>
<line x1="667.31" y1="745.70" x2="667.31" y2="748.90" stroke="#222" stroke-width="0.8"/>
<text x="667.31" y="753.00" text-anchor="middle">80</text>
<line x1="491.10" y1="745.70" x2="494.00" y2="745.70" stroke="#222" stroke-width="0.8"/>
<text x="491.00" y="747.40" text-anchor="end">0</text>
<line x1="491.10" y1="722.10" x2="494.00" y2="722.10" stroke="#222" stroke-width="0.8"/>
<text x="491.00" y="723.80" text-anchor="end">2</text>
<line x1="491.10" y1="698.50" x2="494.00" y2="698.50" stroke="#222" stroke-width="0.8"/>
<text x="491.00" y="700.20" text-anchor="end">4</text>
<line x1="491.10" y1="674.90" x2="494.00" y2="674.90" stroke="#222" stroke-width="0.8"/>
<text x="491.00" y="676.60" text-anchor="end">6</text>
<line x1="491.10" y1="651.30" x2="494.00" y2="651.30" stroke="#222" stroke-width="0.8"/>
<text x="491.00" y="653.00" text-anchor="end">8</text>
<line x1="491.10" y1="627.70" x2="494.00" y2="627.70" stroke="#222" stroke-width="0.8"/>
<text x="491.00" y="629.40" text-anchor="end">10</text>
<line x1="491.10" y1="604.10" x2="494.00" y2="604.10" stroke="#222" stroke-width="0.8"/>
<text x="491.00" y="605.80" text-anchor="end">12</text>
</g>
<text transform="translate(482.20,670.90) rotate(-90)" text-anchor="middle" font-family="'Liberation Sans',Arial,sans-serif" font-weight="bold" font-size="6.2" letter-spacing="0.3" fill="#000" stroke="#000" stroke-width="0.18">Frequency</text>
<text transform="translate(580.40,775.80) scale(0.975,1)" text-anchor="middle" font-family="'Liberation Serif','Times New Roman',serif" font-weight="bold" font-size="18.6" fill="#000">C:S</text>
</g>
</svg>
</body></html>
